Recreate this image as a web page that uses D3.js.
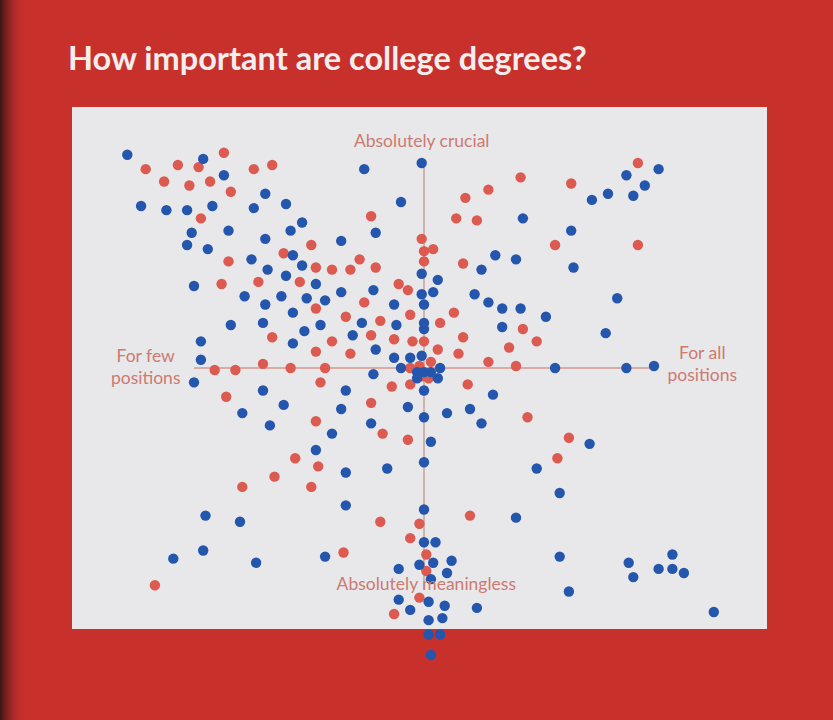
<!DOCTYPE html>
<html lang="en">
<head>
<meta charset="UTF-8">
<script src="https://d3js.org/d3.v7.min.js"></script>
<style>
body{
	margin: 0;
	background-color: #c8302c;
	font-family: Lato, "Open Sans", sans-serif;
}
svg{ display: block; }
</style>
</head>
<body>
<svg width="833" height="720"></svg>

<script>
// survey answers, -100..100 on both axes (few -> all positions, meaningless -> crucial)
const redX = [-121,-107,-98,-87,-113,-102,-93,-84,-74,-66,-97,-23,-49,-1,0,4,0,-61,-85,-47,-40,-32,-28,-21,
	93,64,42,28,18,14,23,57,93,17,-88,-72,-54,-11,-7,-47,-26,-34,-6,-19,-23,-66,-40,-13,-5,0,-47,-32,
	-91,-82,-70,-58,-43,-6,-45,-14,-6,-86,-23,-47,-18,-7,6,15,17,-2,3,-1,2,19,13,7,43,49,37,28,40,45,63,
	-56,-46,-65,-79,-49,-19,-2,-6,-35,-117,-2,-13,1,1,58,20]
const redY = [97,99,98,105,91,89,91,86,97,99,73,74,60,63,57,58,52,56,52,49,48,48,53,49,
	100,90,93,87,83,73,72,60,60,51,41,42,42,41,38,29,32,25,26,23,16,15,13,14,13,13,8,7,
	-1,-1,2,0,0,0,-7,-9,-8,-14,-17,-26,-32,-35,9,7,15,1,3,-4,-5,-8,27,22,19,13,10,3,1,-24,-34,
	-44,-48,-53,-58,-58,-75,-76,-83,-90,-106,-112,-120,-99,-91,-44,-72]

const blueX = [-129,-96,-87,-26,-1,-123,-112,-103,-92,-69,-60,-74,-10,-101,-85,-53,-58,-69,-21,-103,-94,-36,-1,
	-57,-75,-68,-60,-53,102,88,96,91,80,73,43,64,31,40,25,65,6,-100,-47,-22,-36,-51,-62,-78,-69,-43,-13,-1,
	-57,-84,-70,-45,-27,-12,0,0,-52,-31,-97,-57,-21,-13,-6,-1,-97,-10,-100,-22,0,-70,-34,-61,-7,0,-79,-36,
	-23,-67,-40,-47,7,-3,0,3,6,-3,4,0,22,28,34,42,53,84,34,79,57,88,100,30,20,10,25,72,3,-34,-16,0,
	-95,-80,-34,0,0,-96,-109,-73,-43,-11,-2,-11,-6,49,59,40,5,12,4,10,3,59,89,91,108,102,108,113,63,
	2,9,23,126,2,8,2,7,3]
const blueY = [104,102,94,97,100,79,77,77,79,85,80,78,81,66,67,71,67,63,66,60,58,62,46,
	55,53,48,45,50,97,94,89,84,85,82,73,67,55,53,48,49,43,40,41,38,37,34,35,35,31,33,31,36,
	27,21,22,21,22,21,22,19,18,16,13,12,9,5,5,6,4,0,-7,-3,-11,-11,-11,-18,-19,-24,-22,-20,
	-27,-28,-32,-40,0,-2,-2,-2,-5,-5,37,31,36,32,29,29,25,34,20,17,0,0,1,-13,-20,-22,-27,-37,-36,-51,-49,-46,
	-72,-75,-67,-69,-85,-89,-93,-95,-92,-98,-96,-113,-118,-49,-61,-73,-85,-94,-95,-100,-103,-92,-95,-102,-91,-98,-98,-100,-109,
	-114,-116,-117,-119,-123,-122,-130,-130,-140]

const axisLabels = [
	{lines: ["Absolutely crucial"], vx: -1, vy: 108},
	{lines: ["Absolutely meaningless"], vx: 1, vy: -108.5},
	{lines: ["For few", "positions"], vx: -121, vy: 3},
	{lines: ["For all", "positions"], vx: 121, vy: 4.5}
]

const title = "How important are college degrees?"

const svg = d3.select("svg")

// dark fold on the left side of the photo
let grad = svg.append("defs").append("linearGradient").attr("id", "edge")
grad.append("stop").attr("offset", "0%").attr("stop-color", "#3a1414")
grad.append("stop").attr("offset", "100%").attr("stop-color", "#c8302c").attr("stop-opacity", 0)
svg.append("rect").attr("x", 0).attr("y", 0).attr("width", 26).attr("height", 720).style("fill", "url(#edge)")

svg.append("text")
	.attr("x", 68).attr("y", 70)
	.style("fill", "#f3eeee")
	.style("font-size", "32.5px")
	.style("font-weight", "bold")
	.text(title)

// white board
svg.append("rect")
	.attr("x", 72).attr("y", 107)
	.attr("width", 695).attr("height", 522)
	.style("fill", "#e8e8eb")

var x = d3.scaleLinear().domain([-100, 100]).range([194, 654])
var y = d3.scaleLinear().domain([-100, 100]).range([573, 163])

var g = svg.append("g")

g.append("line")
	.attr("x1", x(0)).attr("x2", x(0))
	.attr("y1", y(100)).attr("y2", y(-108))
	.style("stroke", "#c9a09a").style("stroke-width", 1.5)
g.append("line")
	.attr("x1", x(-100)).attr("x2", x(100))
	.attr("y1", y(0)).attr("y2", y(0))
	.style("stroke", "#d49890").style("stroke-width", 1.5)

var red = redX.map(function(d, i){ return {x: d, y: redY[i]} })
var blue = blueX.map(function(d, i){ return {x: d, y: blueY[i]} })

g.selectAll(".red")
	.data(red)
	.join("circle")
	.attr("class", "red")
	.attr("cx", function(d){ return x(d.x) })
	.attr("cy", function(d){ return y(d.y) })
	.attr("r", 5.2)
	.style("fill", "#dc5a50")

g.selectAll(".blue")
	.data(blue)
	.join("circle")
	.attr("class", "blue")
	.attr("cx", function(d){ return x(d.x) })
	.attr("cy", function(d){ return y(d.y) })
	.attr("r", 5.2)
	.style("fill", "#2456ad")

axisLabels.forEach(function(l){
	var t = g.append("text")
		.attr("x", x(l.vx)).attr("y", y(l.vy))
		.attr("text-anchor", "middle")
		.style("fill", "#cd7a70")
		.style("font-size", "17.5px")
	l.lines.forEach(function(s, i){
		t.append("tspan").attr("x", x(l.vx)).attr("dy", i == 0 ? 0 : 22).text(s)
	})
})
</script>
</body>
</html>
